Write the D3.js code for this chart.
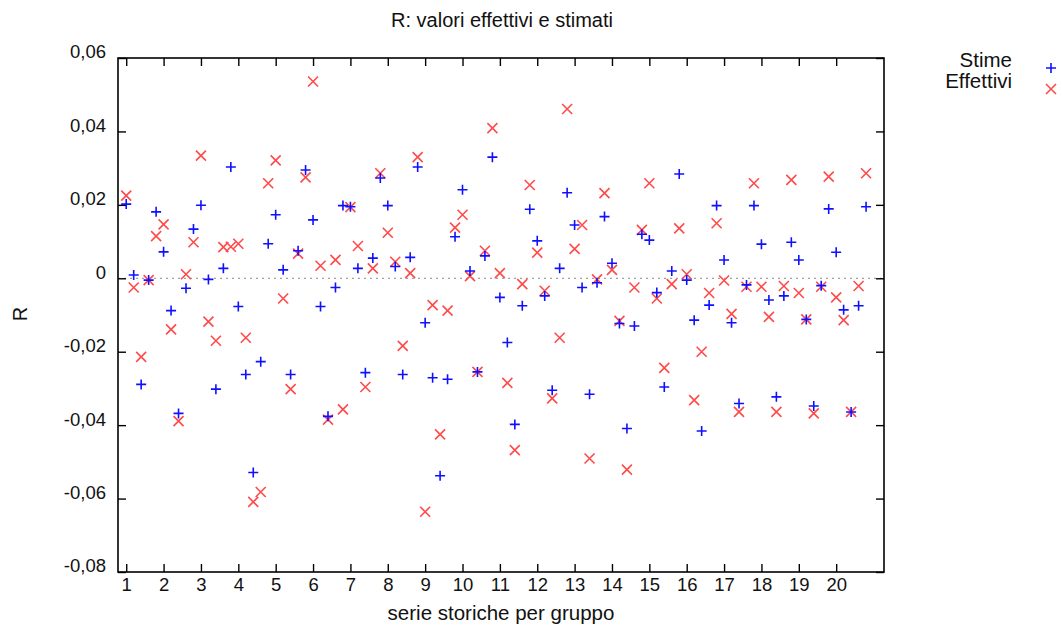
<!DOCTYPE html>
<html><head><meta charset="utf-8">
<script src="https://cdn.jsdelivr.net/npm/d3@7"></script>
<style>
body{margin:0;background:#fff;}
text{font-family:"Liberation Sans",Arial,Helvetica,sans-serif;fill:#111;}
</style></head>
<body><svg id="c" width="1063" height="630"></svg>
<script>
const stime = [0.0202,0.0009,-0.0289,-0.0005,0.0181,0.0072,-0.0088,-0.0368,-0.0027,0.0134,
0.0199,-0.0003,-0.0302,0.0027,0.0303,-0.0077,-0.0262,-0.0529,-0.0227,0.0094,
0.0173,0.0023,-0.0262,0.0075,0.0295,0.0159,-0.0077,-0.0376,-0.0025,0.0198,
0.0195,0.0027,-0.0257,0.0055,0.0273,0.0198,0.0032,-0.0262,0.0057,0.0303,
-0.0121,-0.0271,-0.0538,-0.0275,0.0113,0.0241,0.0020,-0.0255,0.0061,0.0330,
-0.0052,-0.0175,-0.0398,-0.0075,0.0188,0.0102,-0.0048,-0.0305,0.0027,0.0233,
0.0145,-0.0025,-0.0316,-0.0012,0.0168,0.0041,-0.0123,-0.0409,-0.0130,0.0120,
0.0104,-0.0039,-0.0296,0.0020,0.0284,-0.0005,-0.0114,-0.0416,-0.0073,0.0198,
0.0050,-0.0121,-0.0341,-0.0018,0.0198,0.0093,-0.0059,-0.0323,-0.0048,0.0098,
0.0050,-0.0112,-0.0348,-0.0020,0.0189,0.0071,-0.0086,-0.0364,-0.0075,0.0195];
const effettivi = [0.0225,-0.0025,-0.0214,-0.0005,0.0115,0.0147,-0.0139,-0.0389,0.0011,0.0098,
0.0334,-0.0118,-0.0170,0.0085,0.0086,0.0094,-0.0162,-0.0609,-0.0582,0.0259,
0.0321,-0.0055,-0.0302,0.0067,0.0275,0.0536,0.0034,-0.0385,0.0050,-0.0357,
0.0194,0.0088,-0.0296,0.0027,0.0286,0.0124,0.0045,-0.0184,0.0014,0.0330,
-0.0636,-0.0073,-0.0425,-0.0088,0.0138,0.0173,0.0006,-0.0255,0.0075,0.0409,
0.0014,-0.0285,-0.0468,-0.0016,0.0254,0.0070,-0.0034,-0.0327,-0.0162,0.0461,
0.0080,0.0145,-0.0491,-0.0003,0.0232,0.0023,-0.0116,-0.0521,-0.0025,0.0132,
0.0259,-0.0055,-0.0244,-0.0016,0.0136,0.0011,-0.0332,-0.0200,-0.0040,0.0150,
-0.0006,-0.0097,-0.0364,-0.0023,0.0259,-0.0023,-0.0105,-0.0364,-0.0021,0.0268,
-0.0040,-0.0112,-0.0368,-0.0023,0.0277,-0.0052,-0.0114,-0.0364,-0.0021,0.0286];
const xTickLabels = ["1","2","3","4","5","6","7","8","9","10","11","12","13","14","15","16","17","18","19","20"];
const yTicks = [-0.08,-0.06,-0.04,-0.02,0,0.02,0.04,0.06];
const seriesNames = ["Stime","Effettivi"];

const svg = d3.select("#c");
const L=118, R=884, T=58, B=572;
const x = d3.scaleLinear().domain([-1.1,101.4]).range([L,R]);
const y = d3.scaleLinear().domain([-0.08,0.06]).range([B,T]);
const xTickVals = xTickLabels.map((d,i)=>i*5);
const fmtY = d => d===0 ? "0" : d.toFixed(2).replace(".",",");

// zero line
svg.append("line").attr("x1",L).attr("x2",R).attr("y1",y(0)).attr("y2",y(0))
  .attr("stroke","#a0a0a0").attr("stroke-width",1.2).attr("stroke-dasharray","2,4");

function styleAxis(g){
  g.select(".domain").remove();
  g.selectAll(".tick line").attr("stroke","#000").attr("stroke-width",1.4);
  g.selectAll("text").style("font-size","18.5px").attr("fill","#111");
}
svg.append("g").attr("transform",`translate(${L},0)`)
  .call(d3.axisLeft(y).tickValues(yTicks).tickFormat(fmtY).tickSize(-8).tickPadding(12)).call(styleAxis)
  .selectAll("text").attr("y",-6);
svg.append("g").attr("transform",`translate(${R},0)`)
  .call(d3.axisRight(y).tickValues(yTicks).tickFormat("").tickSize(-8)).call(styleAxis);
svg.append("g").attr("transform",`translate(0,${B})`)
  .call(d3.axisBottom(x).tickValues(xTickVals).tickFormat((d,i)=>xTickLabels[i]).tickSize(-8).tickPadding(6)).call(styleAxis);
svg.append("g").attr("transform",`translate(0,${T})`)
  .call(d3.axisTop(x).tickValues(xTickVals).tickFormat("").tickSize(-8)).call(styleAxis);

svg.append("rect").attr("x",L).attr("y",T).attr("width",R-L).attr("height",B-T)
  .attr("fill","none").attr("stroke","#000").attr("stroke-width",1.6);

const s=5;
const plusPath = (cx,cy)=>`M${cx-s},${cy}H${cx+s}M${cx},${cy-s}V${cy+s}`;
const crossPath = (cx,cy)=>`M${cx-s},${cy-s}L${cx+s},${cy+s}M${cx-s},${cy+s}L${cx+s},${cy-s}`;
const blue="#1010ff", red="#ff4a4a";

svg.append("g").selectAll("path").data(effettivi).join("path")
  .attr("d",(d,i)=>crossPath(x(i),y(d))).attr("stroke",red).attr("stroke-width",1.6).attr("fill","none");
svg.append("g").selectAll("path").data(stime).join("path")
  .attr("d",(d,i)=>plusPath(x(i),y(d))).attr("stroke",blue).attr("stroke-width",1.6).attr("fill","none");

// title and labels
svg.append("text").attr("x",502).attr("y",27).attr("text-anchor","middle").style("font-size","20px")
  .text("R: valori effettivi e stimati");
svg.append("text").attr("transform","translate(27,314) rotate(-90)").attr("text-anchor","middle").style("font-size","20px").text("R");
svg.append("text").attr("x",501).attr("y",620).attr("text-anchor","middle").style("font-size","20.5px").text("serie storiche per gruppo");

// legend
const lg = svg.append("g");
lg.append("text").attr("x",1012).attr("y",67).attr("text-anchor","end").style("font-size","20.5px").text(seriesNames[0]);
lg.append("text").attr("x",1012).attr("y",88).attr("text-anchor","end").style("font-size","20.5px").text(seriesNames[1]);
lg.append("path").attr("d",plusPath(1051,68)).attr("stroke",blue).attr("stroke-width",1.6);
lg.append("path").attr("d",crossPath(1051,89)).attr("stroke",red).attr("stroke-width",1.6);
</script></body></html>
